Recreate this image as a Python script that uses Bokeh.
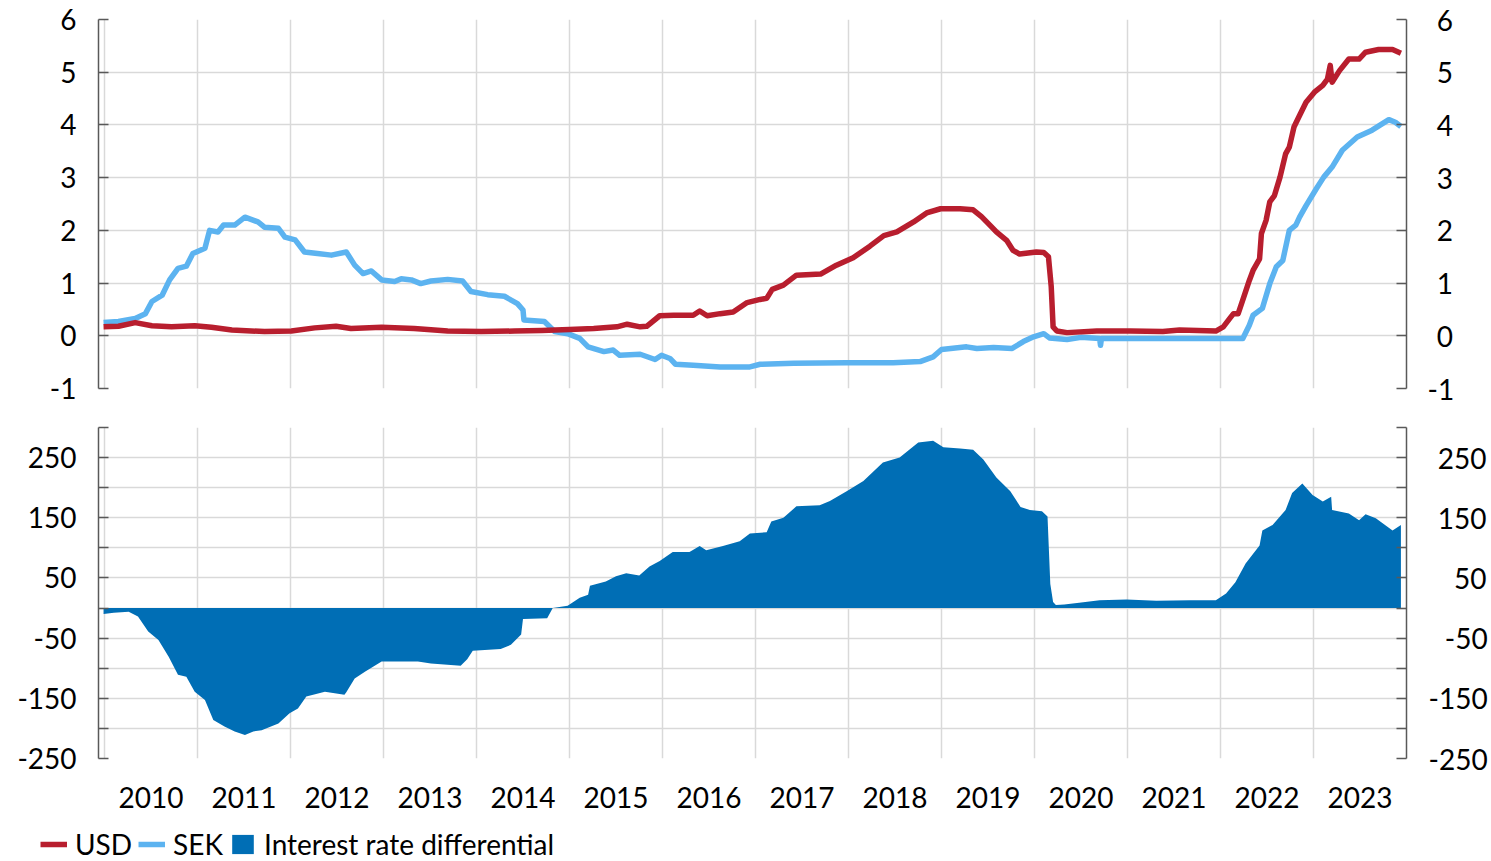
from bokeh.plotting import figure
from bokeh.layouts import column
from bokeh.models import LinearAxis, FixedTicker, Range1d, Legend, LegendItem
from bokeh.embed import file_html
from bokeh.resources import INLINE

# ---------------- data ----------------
USD = [(2009.99, 0.17), (2010.15, 0.18), (2010.33, 0.25), (2010.51, 0.19), (2010.72, 0.17),
       (2010.97, 0.19), (2011.15, 0.16), (2011.37, 0.11), (2011.72, 0.08), (2012.01, 0.09),
       (2012.26, 0.15), (2012.49, 0.18), (2012.65, 0.14), (2012.98, 0.16), (2013.33, 0.14),
       (2013.69, 0.09), (2014.05, 0.08), (2014.41, 0.09), (2014.70, 0.10), (2015.00, 0.12),
       (2015.26, 0.14), (2015.51, 0.17), (2015.62, 0.22), (2015.76, 0.17), (2015.83, 0.18),
       (2015.97, 0.38), (2016.12, 0.39), (2016.33, 0.39), (2016.40, 0.47), (2016.48, 0.38),
       (2016.62, 0.42), (2016.76, 0.45), (2016.91, 0.63), (2017.05, 0.69), (2017.12, 0.71),
       (2017.18, 0.88), (2017.30, 0.96), (2017.44, 1.15), (2017.70, 1.17), (2017.87, 1.34),
       (2018.05, 1.48), (2018.23, 1.70), (2018.38, 1.90), (2018.52, 1.97), (2018.70, 2.16),
       (2018.84, 2.33), (2018.99, 2.41), (2019.20, 2.41), (2019.34, 2.39), (2019.43, 2.26),
       (2019.52, 2.10), (2019.59, 1.97), (2019.70, 1.81), (2019.77, 1.62), (2019.84, 1.55),
       (2020.02, 1.59), (2020.10, 1.58), (2020.15, 1.50), (2020.18, 0.93), (2020.20, 0.17),
       (2020.24, 0.09), (2020.35, 0.06), (2020.67, 0.09), (2021.03, 0.09), (2021.38, 0.08),
       (2021.56, 0.11), (2021.95, 0.09), (2022.03, 0.17), (2022.10, 0.33), (2022.14, 0.42),
       (2022.19, 0.42), (2022.24, 0.68), (2022.31, 1.05), (2022.35, 1.24), (2022.42, 1.46),
       (2022.44, 1.94), (2022.49, 2.19), (2022.53, 2.54), (2022.58, 2.66), (2022.64, 3.01),
       (2022.70, 3.45), (2022.74, 3.58), (2022.79, 3.96), (2022.85, 4.18), (2022.92, 4.43),
       (2023.01, 4.62), (2023.10, 4.75), (2023.15, 4.87), (2023.18, 5.13), (2023.20, 4.81),
       (2023.28, 5.03), (2023.38, 5.25), (2023.49, 5.25), (2023.56, 5.38), (2023.70, 5.43),
       (2023.85, 5.43), (2023.94, 5.36)]

SEK = [(2009.99, 0.25), (2010.15, 0.27), (2010.33, 0.33), (2010.44, 0.42), (2010.51, 0.65),
       (2010.62, 0.77), (2010.70, 1.06), (2010.79, 1.28), (2010.88, 1.32), (2010.95, 1.56),
       (2011.08, 1.66), (2011.13, 2.00), (2011.22, 1.97), (2011.28, 2.10), (2011.40, 2.10),
       (2011.51, 2.25), (2011.65, 2.16), (2011.72, 2.06), (2011.87, 2.04), (2011.94, 1.87),
       (2012.05, 1.82), (2012.15, 1.59), (2012.29, 1.56), (2012.44, 1.53), (2012.60, 1.59),
       (2012.69, 1.34), (2012.78, 1.18), (2012.87, 1.23), (2012.98, 1.06), (2013.12, 1.03),
       (2013.19, 1.08), (2013.30, 1.06), (2013.40, 0.99), (2013.51, 1.04), (2013.69, 1.07),
       (2013.85, 1.04), (2013.94, 0.84), (2014.12, 0.78), (2014.30, 0.75), (2014.44, 0.61),
       (2014.50, 0.49), (2014.51, 0.30), (2014.73, 0.27), (2014.84, 0.08), (2014.98, 0.04),
       (2015.11, -0.05), (2015.20, -0.21), (2015.37, -0.30), (2015.47, -0.27), (2015.54, -0.37),
       (2015.76, -0.35), (2015.92, -0.45), (2015.99, -0.37), (2016.08, -0.43), (2016.14, -0.54),
       (2016.33, -0.56), (2016.62, -0.59), (2016.94, -0.59), (2017.05, -0.54), (2017.41, -0.52),
       (2017.98, -0.51), (2018.48, -0.51), (2018.77, -0.49), (2018.91, -0.40), (2019.00, -0.26),
       (2019.27, -0.21), (2019.38, -0.24), (2019.56, -0.22), (2019.76, -0.24), (2019.88, -0.11),
       (2019.99, -0.02), (2020.10, 0.04), (2020.16, -0.04), (2020.35, -0.07), (2020.50, -0.03),
       (2020.70, -0.05), (2020.71, -0.18), (2020.72, -0.05), (2021.00, -0.05), (2021.60, -0.05),
       (2022.24, -0.05), (2022.31, 0.20), (2022.35, 0.39), (2022.45, 0.52), (2022.53, 0.99),
       (2022.60, 1.31), (2022.67, 1.43), (2022.74, 2.00), (2022.81, 2.10), (2022.85, 2.25),
       (2022.92, 2.47), (2023.03, 2.79), (2023.11, 3.01), (2023.20, 3.20), (2023.31, 3.52),
       (2023.47, 3.77), (2023.63, 3.90), (2023.81, 4.10), (2023.88, 4.05), (2023.94, 3.97)]

DIFF = [(2009.99, -10), (2010.10, -8), (2010.26, -6), (2010.36, -14), (2010.47, -39),
        (2010.58, -53), (2010.69, -81), (2010.79, -111), (2010.88, -114), (2010.97, -139),
        (2011.08, -153), (2011.17, -186), (2011.29, -197), (2011.40, -205), (2011.51, -211),
        (2011.60, -205), (2011.69, -203), (2011.87, -192), (2011.99, -175), (2012.08, -167),
        (2012.17, -147), (2012.37, -139), (2012.58, -144), (2012.60, -140), (2012.69, -117),
        (2012.80, -106), (2012.98, -89), (2013.15, -89), (2013.37, -89), (2013.51, -92),
        (2013.83, -96), (2013.90, -85), (2013.96, -71), (2014.26, -68), (2014.37, -61),
        (2014.48, -44), (2014.50, -18), (2014.76, -17), (2014.82, 0), (2014.98, 4),
        (2015.11, 17), (2015.20, 22), (2015.22, 37), (2015.39, 44), (2015.50, 53),
        (2015.61, 58), (2015.75, 54), (2015.86, 69), (2015.97, 78), (2016.11, 93),
        (2016.29, 93), (2016.40, 103), (2016.47, 96), (2016.65, 103), (2016.83, 111),
        (2016.94, 124), (2017.12, 126), (2017.17, 144), (2017.30, 150), (2017.44, 169),
        (2017.69, 171), (2017.80, 178), (2017.98, 194), (2018.16, 211), (2018.37, 242),
        (2018.55, 250), (2018.75, 275), (2018.91, 278), (2019.02, 267), (2019.20, 265),
        (2019.34, 263), (2019.45, 247), (2019.59, 217), (2019.74, 194), (2019.85, 168),
        (2019.95, 163), (2020.08, 161), (2020.14, 152), (2020.17, 40), (2020.20, 10),
        (2020.23, 5), (2020.32, 6), (2020.48, 9), (2020.70, 13), (2020.99, 14),
        (2021.31, 12), (2021.67, 13), (2021.95, 13), (2022.06, 24), (2022.16, 43),
        (2022.27, 74), (2022.42, 104), (2022.45, 129), (2022.56, 138), (2022.70, 163),
        (2022.77, 191), (2022.88, 207), (2022.99, 188), (2023.10, 177), (2023.19, 185),
        (2023.20, 163), (2023.38, 157), (2023.49, 146), (2023.56, 156), (2023.67, 149),
        (2023.85, 129), (2023.94, 138)]

YEARS = list(range(2010, 2024))
TOP_TICKS = [-1, 0, 1, 2, 3, 4, 5, 6]
BOTTOM_TICKS = list(range(-250, 301, 50))
BOTTOM_LABELS = [-250, -150, -50, 50, 150, 250]
LEGEND_LABELS = ["USD", "SEK", "Interest rate differential"]

usd_x = [t for t, _ in USD]; usd_y = [v for _, v in USD]
sek_x = [t for t, _ in SEK]; sek_y = [v for _, v in SEK]
dif_x = [t for t, _ in DIFF]; dif_y = [v for _, v in DIFF]

# ---------------- styles ----------------
RED = "#B81E2E"
LIGHT = "#5CB3F0"
BLUE = "#006EB5"
GRID = "#D9D9D9"
AXIS = "#595959"
FONT = "Lato"
FS = "28px"
FIG = "\u2007"    # figure space (digit width)
HYP = "\u2004"    # about the width of a hyphen
W = 1490
LW = 5.5

x_range = Range1d(2009.9355, 2024.0)


def lbl(v):
    return ("-" + str(-v)) if v < 0 else str(v)


def right_pad(text, digits):
    core = text.lstrip("-")
    pad = FIG * (digits - len(core))
    if not text.startswith("-"):
        pad = HYP + pad
    return pad + text


def style_y(axis, standoff):
    axis.axis_line_color = AXIS
    axis.axis_line_width = 1.5
    axis.major_tick_line_color = AXIS
    axis.major_tick_line_width = 1.5
    axis.major_tick_in = 10
    axis.major_tick_out = 0
    axis.minor_tick_line_color = None
    axis.major_label_text_font = FONT
    axis.major_label_text_font_size = FS
    axis.major_label_text_color = "black"
    axis.major_label_standoff = standoff


def style_grid(p, yticks):
    p.xgrid.ticker = FixedTicker(ticks=YEARS + [2024])
    p.ygrid.ticker = FixedTicker(ticks=yticks)
    for g in (p.xgrid, p.ygrid):
        g.grid_line_color = GRID
        g.grid_line_width = 1.5


# ---------------- top panel ----------------
p1 = figure(width=W, height=410, x_range=x_range, y_range=Range1d(-1, 6),
            output_backend="svg", toolbar_location=None,
            min_border_left=98, min_border_right=W - 1407, min_border_top=19, min_border_bottom=22)
p1.outline_line_color = None
p1.xaxis.visible = False
style_grid(p1, TOP_TICKS)

p1.yaxis.ticker = FixedTicker(ticks=TOP_TICKS)
p1.yaxis.major_label_overrides = {t: lbl(t) for t in TOP_TICKS}
style_y(p1.yaxis[0], 22)
r_ax1 = LinearAxis(ticker=FixedTicker(ticks=TOP_TICKS))
r_ax1.major_label_overrides = {t: right_pad(lbl(t), 1) for t in TOP_TICKS}
style_y(r_ax1, 21)
p1.add_layout(r_ax1, "right")

p1.line(sek_x, sek_y, line_color=LIGHT, line_width=LW, line_join="round")
p1.line(usd_x, usd_y, line_color=RED, line_width=LW, line_join="round")

# ---------------- bottom panel ----------------
p2 = figure(width=W, height=405, x_range=x_range, y_range=Range1d(-250, 300),
            output_backend="svg", toolbar_location=None,
            min_border_left=98, min_border_right=W - 1407, min_border_top=17, min_border_bottom=57)
p2.outline_line_color = None
style_grid(p2, BOTTOM_TICKS)

xa = p2.xaxis[0]
xa.ticker = FixedTicker(ticks=[y + 0.5 for y in YEARS])
xa.major_label_overrides = {y + 0.5: str(y) for y in YEARS}
xa.axis_line_color = None
xa.major_tick_line_color = None
xa.minor_tick_line_color = None
xa.major_label_standoff = 22
xa.major_label_text_font = FONT
xa.major_label_text_font_size = FS
xa.major_label_text_color = "black"

p2.yaxis.ticker = FixedTicker(ticks=BOTTOM_TICKS)
p2.yaxis.major_label_overrides = {t: (lbl(t) if t in BOTTOM_LABELS else "") for t in BOTTOM_TICKS}
style_y(p2.yaxis[0], 22)
r_ax2 = LinearAxis(ticker=FixedTicker(ticks=BOTTOM_TICKS))
r_ax2.major_label_overrides = {t: (right_pad(lbl(t), 3) if t in BOTTOM_LABELS else "")
                               for t in BOTTOM_TICKS}
style_y(r_ax2, 22)
p2.add_layout(r_ax2, "right")

p2.varea(x=dif_x, y1=0, y2=dif_y, fill_color=BLUE)

# ---------------- legend strip ----------------
# the series are drawn here again only as legend swatches (out of this strip's view)
p3 = figure(width=W, height=46, x_range=Range1d(0, 1), y_range=Range1d(0, 1),
            output_backend="svg", toolbar_location=None,
            x_axis_location=None, y_axis_location=None,
            min_border_left=0, min_border_right=0, min_border_top=0, min_border_bottom=0)
p3.frame_align = False
p3.outline_line_color = None
p3.grid.visible = False
g_usd = p3.line(usd_x, usd_y, line_color=RED, line_width=LW)
g_sek = p3.line(sek_x, sek_y, line_color=LIGHT, line_width=LW)
g_dif = p3.varea(x=dif_x, y1=0, y2=dif_y, fill_color=BLUE)

legend = Legend(items=[LegendItem(label=LEGEND_LABELS[0], renderers=[g_usd]),
                       LegendItem(label=LEGEND_LABELS[1], renderers=[g_sek]),
                       LegendItem(label=LEGEND_LABELS[2], renderers=[g_dif])],
                orientation="horizontal", location=(40, 0),
                glyph_width=27, glyph_height=24, label_standoff=8, spacing=6,
                padding=0, margin=0, border_line_color=None, background_fill_alpha=0,
                label_text_font=FONT, label_text_font_size=FS, label_text_color="black")
p3.add_layout(legend, "center")

layout = column(p1, p2, p3, spacing=0)
open("out.html", "w").write(file_html(layout, INLINE))
